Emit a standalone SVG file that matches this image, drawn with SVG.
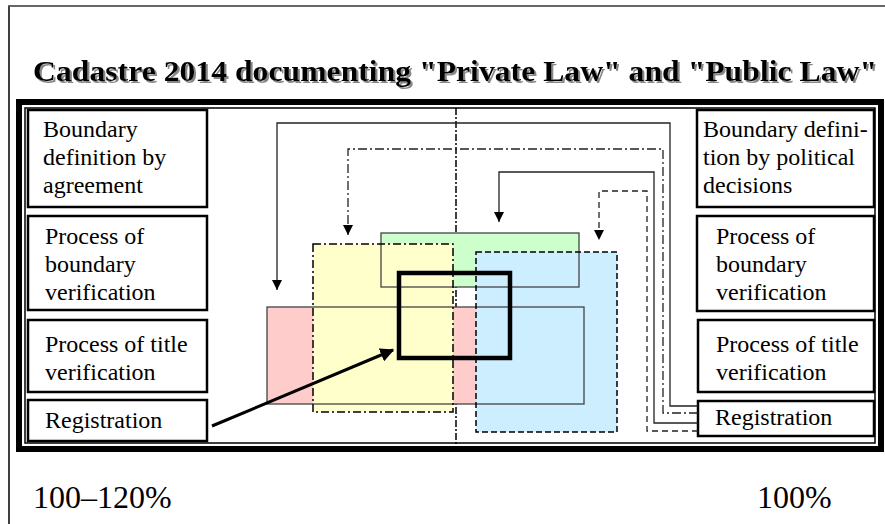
<svg xmlns="http://www.w3.org/2000/svg" width="885" height="524" viewBox="0 0 885 524">
<defs>
<style>
.box{fill:#fff;stroke:#000;stroke-width:2.5}
.lbl{font-family:"Liberation Serif","Times New Roman",serif;font-size:24px;fill:#000}
.conn{fill:none;stroke:#222;stroke-width:1.3}
.dd{stroke-dasharray:9 3 2 3}
.dash{stroke-dasharray:6 4}
.pct{font-family:"Liberation Serif","Times New Roman",serif;font-size:32px;fill:#000}
</style>
<filter id="shadow" x="-5%" y="-20%" width="110%" height="150%">
<feDropShadow dx="2" dy="2" stdDeviation="0.3" flood-color="#888" flood-opacity="1"/>
</filter>
<marker id="ah" viewBox="0 0 10 10" refX="10" refY="5" markerWidth="10" markerHeight="10" markerUnits="userSpaceOnUse" orient="auto">
<path d="M0,0 L10,5 L0,10 Z" fill="#000"/>
</marker>
<marker id="ahb" viewBox="0 0 10 10" refX="9" refY="5" markerWidth="14" markerHeight="14" markerUnits="userSpaceOnUse" orient="auto">
<path d="M0,0 L10,5 L0,10 Z" fill="#000"/>
</marker>
</defs>
<rect width="885" height="524" fill="#fff"/>
<path d="M9,524 V6 H885" fill="none" stroke="#000" stroke-width="1.5"/>
<path d="M9,6 H885" fill="none" stroke="#666" stroke-width="2"/>
<g id="title">
<text x="33" y="81" textLength="844" lengthAdjust="spacingAndGlyphs" font-family="Liberation Serif, Times New Roman, serif" font-size="30" font-weight="bold" fill="#000" filter="url(#shadow)">Cadastre 2014 documenting "Private Law" and "Public Law"</text>
</g>
<g id="frame">
<rect x="19" y="102" width="862" height="347" fill="none" stroke="#000" stroke-width="6"/>
<rect x="25" y="108" width="850" height="335" fill="none" stroke="#000" stroke-width="1.5"/>
</g>
<g id="centerline">
<path d="M456,108 V450" fill="none" stroke="#000" stroke-width="1.5" stroke-dasharray="7 2 2 2"/>
</g>
<g id="areas">
<rect x="267" y="307" width="317" height="97" fill="#ffcccc"/>
<rect x="381" y="233" width="198" height="54" fill="#ccffcc"/>
<rect x="313" y="244" width="140" height="168" fill="#ffffcc"/>
<rect x="476" y="252" width="141" height="180" fill="#cceeff"/>
<rect x="267" y="307" width="317" height="97" fill="none" stroke="#444" stroke-width="1.3"/>
<rect x="381" y="233" width="198" height="54" fill="none" stroke="#444" stroke-width="1.3"/>
<rect x="313" y="244" width="140" height="168" fill="none" stroke="#000" stroke-width="1.5" stroke-dasharray="8 3 2 3"/>
<rect x="476" y="252" width="141" height="180" fill="none" stroke="#000" stroke-width="1.5" stroke-dasharray="6 3"/>
<rect x="399" y="273" width="111" height="85" fill="none" stroke="#000" stroke-width="4.5"/>
</g>
<g id="left-boundary-agreement">
<rect class="box" x="28" y="110" width="179" height="97"/>
<text class="lbl" x="43" y="137">Boundary</text>
<text class="lbl" x="43" y="165">definition by</text>
<text class="lbl" x="43" y="193">agreement</text>
</g>
<g id="left-boundary-verification">
<rect class="box" x="28" y="216" width="179" height="94"/>
<text class="lbl" x="45" y="244">Process of</text>
<text class="lbl" x="45" y="272">boundary</text>
<text class="lbl" x="45" y="300">verification</text>
</g>
<g id="left-title-verification">
<rect class="box" x="28" y="320" width="179" height="72"/>
<text class="lbl" x="45" y="352">Process of title</text>
<text class="lbl" x="45" y="380">verification</text>
</g>
<g id="left-registration">
<rect class="box" x="28" y="400" width="179" height="41"/>
<text class="lbl" x="45" y="428">Registration</text>
</g>
<g id="right-boundary-political">
<rect class="box" x="697" y="110" width="177" height="97"/>
<text class="lbl" x="703" y="137">Boundary defini-</text>
<text class="lbl" x="703" y="165">tion by political</text>
<text class="lbl" x="703" y="193">decisions</text>
</g>
<g id="right-boundary-verification">
<rect class="box" x="697" y="216" width="177" height="95"/>
<text class="lbl" x="716" y="244">Process of</text>
<text class="lbl" x="716" y="272">boundary</text>
<text class="lbl" x="716" y="300">verification</text>
</g>
<g id="right-title-verification">
<rect class="box" x="698" y="320" width="176" height="72"/>
<text class="lbl" x="716" y="352">Process of title</text>
<text class="lbl" x="716" y="380">verification</text>
</g>
<g id="right-registration">
<rect class="box" x="698" y="401" width="176" height="35"/>
<text class="lbl" x="715" y="425">Registration</text>
</g>
<g id="connectors">
<path class="conn" d="M698,406 H670 V123 H277 V290" marker-end="url(#ah)"/>
<path class="conn dd" d="M698,413 H663 V149 H348 V235" marker-end="url(#ah)"/>
<path class="conn" d="M698,423 H654 V172 H499 V222" marker-end="url(#ah)"/>
<path class="conn dash" d="M698,431 H647 V191 H599 V240" marker-end="url(#ah)"/>
<path d="M212,426 L393,350" fill="none" stroke="#000" stroke-width="3" marker-end="url(#ahb)"/>
</g>
<g id="percentages">
<text class="pct" x="33" y="508">100–120%</text>
<text class="pct" x="757" y="508">100%</text>
</g>
</svg>
